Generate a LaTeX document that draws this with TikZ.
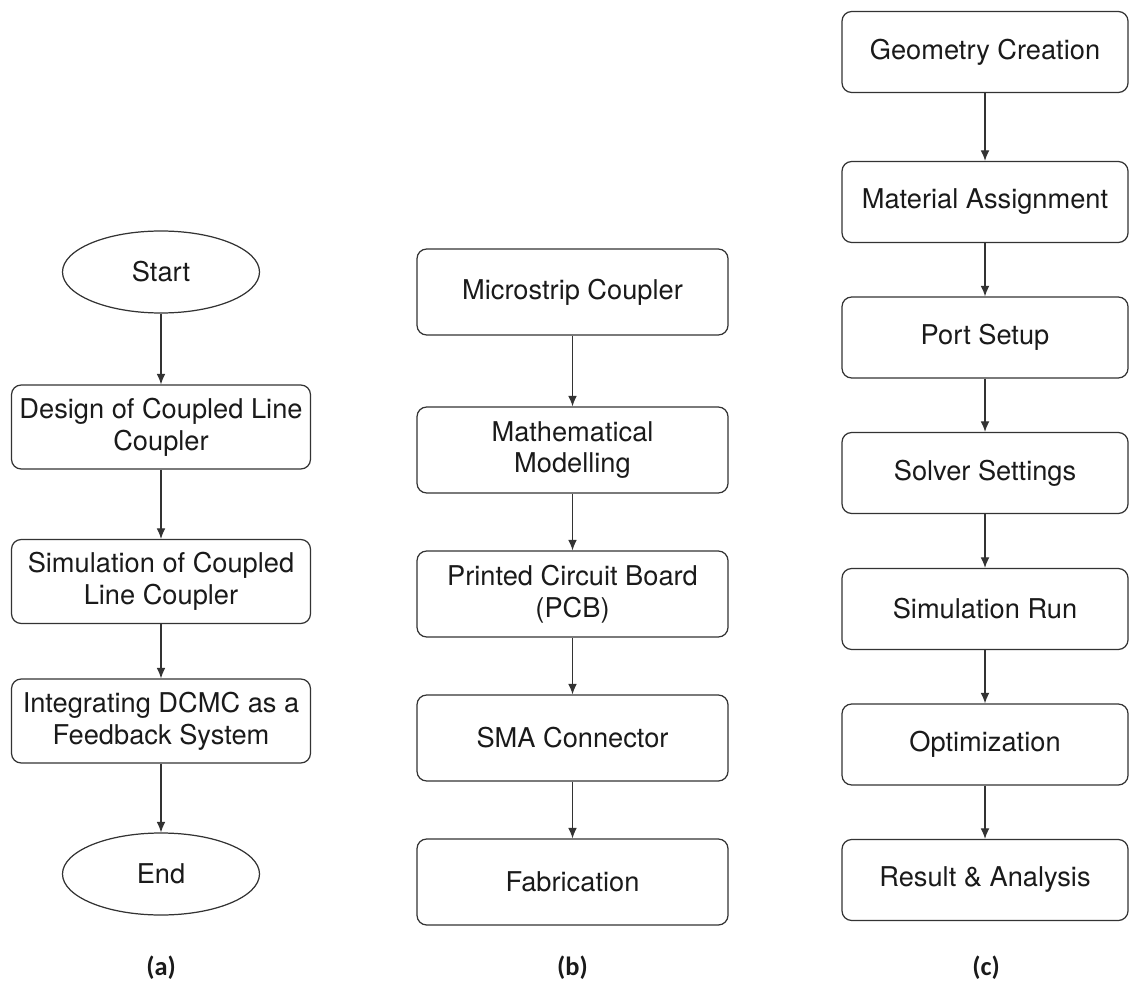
\documentclass[tikz,border=0pt]{standalone}
\usepackage{fontspec}
\setmainfont{TeX Gyre Heros}
\newfontfamily\capfont{Carlito}
\usepackage{tikz}
\usetikzlibrary{arrows.meta,positioning,shapes.geometric}
\definecolor{edge800}{HTML}{333333}
\definecolor{ink900}{HTML}{1A1A1A}

\begin{document}
\begin{tikzpicture}
  % Styles
  \tikzset{
    stage/.style={draw=edge800, rounded corners=5.5pt, line width=0.7pt, align=center, text=ink900, inner sep=0pt, font=\fontsize{15.5}{18}\selectfont},
    stagea/.style={stage, minimum width=5.98cm, minimum height=1.68cm},
    stageb/.style={stage, minimum width=6.22cm, minimum height=1.72cm},
    stagec/.style={stage, minimum width=5.72cm, minimum height=1.62cm},
    terminal/.style={draw=edge800, ellipse, line width=0.7pt, text=ink900, inner sep=0pt, minimum width=3.94cm, minimum height=1.64cm, font=\fontsize{15.5}{18}\selectfont},
    caption/.style={font=\capfont\bfseries\fontsize{15}{18}\selectfont, text=ink900},
    line/.style={-{Latex[length=6pt,width=5pt]}, line width=0.7pt, draw=edge800},
  }
  \useasboundingbox (0,0) rectangle (22.58,-19.90);

  % Column (a)
  \node[terminal] (start) at (3.22,-5.44) {Start};
  \node[stagea] (design) at (3.22,-8.54) {Design of Coupled Line\\Coupler};
  \node[stagea] (simul) at (3.22,-11.63) {Simulation of Coupled\\Line Coupler};
  \node[stagea] (integ) at (3.22,-14.42) {Integrating DCMC as a\\Feedback System};
  \node[terminal] (stop) at (3.22,-17.48) {End};

  % Column (b)
  \node[stageb] (micro) at (11.45,-5.84) {Microstrip Coupler};
  \node[stageb] (model) at (11.45,-9.00) {Mathematical\\Modelling};
  \node[stageb] (pcb) at (11.45,-11.88) {Printed Circuit Board\\(PCB)};
  \node[stageb] (sma) at (11.45,-14.76) {SMA Connector};
  \node[stageb] (fab) at (11.45,-17.64) {Fabrication};

  % Column (c)
  \node[stagec] (geom) at (19.70,-1.04) {Geometry Creation};
  \node[stagec] (mat) at (19.70,-4.04) {Material Assignment};
  \node[stagec] (port) at (19.70,-6.75) {Port Setup};
  \node[stagec] (solver) at (19.70,-9.46) {Solver Settings};
  \node[stagec] (run) at (19.70,-12.18) {Simulation Run};
  \node[stagec] (optim) at (19.70,-14.89) {Optimization};
  \node[stagec] (result) at (19.70,-17.60) {Result \& Analysis};

  % Captions
  \node[caption] (capa) at (3.22,-19.36) {(a)};
  \node[caption] (capb) at (11.45,-19.36) {(b)};
  \node[caption] (capc) at (19.72,-19.36) {(c)};

  % Links
  \draw[line] (start) -- (design);
  \draw[line] (design) -- (simul);
  \draw[line] (simul) -- (integ);
  \draw[line] (integ) -- (stop);
  \draw[line] (micro) -- (model);
  \draw[line] (model) -- (pcb);
  \draw[line] (pcb) -- (sma);
  \draw[line] (sma) -- (fab);
  \draw[line] (geom) -- (mat);
  \draw[line] (mat) -- (port);
  \draw[line] (port) -- (solver);
  \draw[line] (solver) -- (run);
  \draw[line] (run) -- (optim);
  \draw[line] (optim) -- (result);
\end{tikzpicture}
\end{document}
